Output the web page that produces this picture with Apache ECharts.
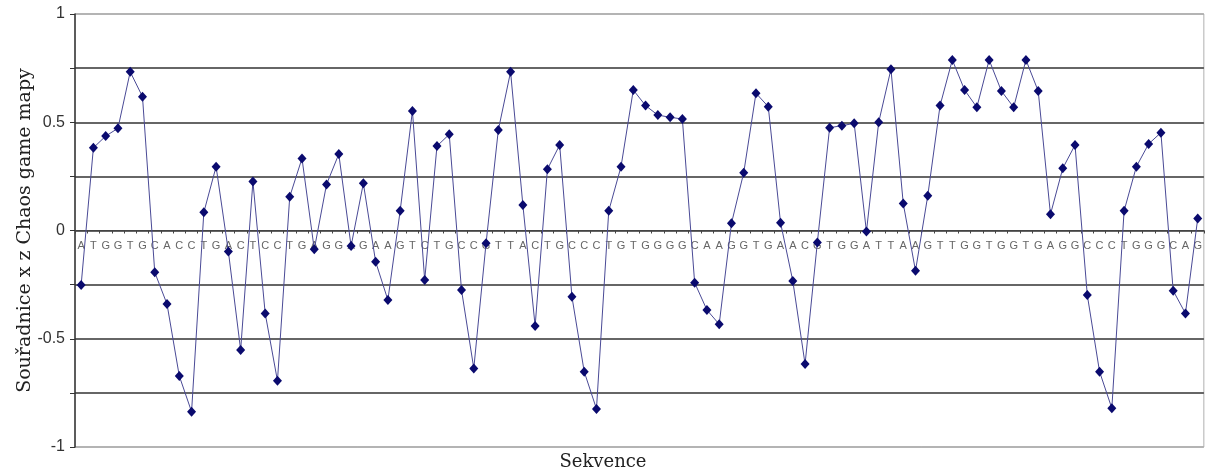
<!DOCTYPE html>
<html>
<head>
<meta charset="utf-8">
<script src="https://cdn.jsdelivr.net/npm/echarts@6/dist/echarts.min.js"></script>
<style>
  html, body { margin: 0; padding: 0; background: #fff; }
  #chart { width: 1205px; height: 472px; }
</style>
</head>
<body>
<div id="chart"></div>
<script>
// Nucleotide sequence shown along the x axis
const bases = [
  'A','T','G','G','T','G','C','A','C','C',
  'T','G','A','C','T','C','C','T','G','A',
  'G','G','A','G','A','A','G','T','C','T',
  'G','C','C','G','T','T','A','C','T','G',
  'C','C','C','T','G','T','G','G','G','G',
  'C','A','A','G','G','T','G','A','A','C',
  'G','T','G','G','A','T','T','A','A','G',
  'T','T','G','G','T','G','G','T','G','A',
  'G','G','C','C','C','T','G','G','G','C',
  'A','G'
];

// x coordinate of each step in the chaos game map
const xCoord = [
  -0.252, 0.382, 0.436, 0.472, 0.733, 0.618, -0.193, -0.340, -0.672, -0.837,
  0.084, 0.295, -0.097, -0.552, 0.226, -0.383, -0.694, 0.156, 0.333, -0.087,
  0.213, 0.353, -0.072, 0.218, -0.144, -0.321, 0.091, 0.552, -0.229, 0.390,
  0.444, -0.275, -0.637, -0.059, 0.464, 0.733, 0.118, -0.441, 0.283, 0.395,
  -0.306, -0.652, -0.824, 0.091, 0.295, 0.649, 0.577, 0.533, 0.523, 0.515,
  -0.241, -0.367, -0.433, 0.033, 0.267, 0.634, 0.572, 0.036, -0.233, -0.617,
  -0.055, 0.475, 0.484, 0.495, -0.005, 0.500, 0.745, 0.125, -0.186, 0.161,
  0.577, 0.788, 0.649, 0.569, 0.788, 0.644, 0.569, 0.788, 0.644, 0.075,
  0.287, 0.395, -0.298, -0.652, -0.821, 0.091, 0.295, 0.400, 0.452, -0.278,
  -0.383, 0.056
];

// Labelled values on the y axis
const yTickLabels = [-1, -0.5, 0, 0.5, 1];

const yTitle = 'Souřadnice x z Chaos game mapy';
const xTitle = 'Sekvence';

// Horizontal rules: light at the frame (±1), dark inside
const ruleColors = ['#a8a8a8', '#333', '#333', '#333', '#333', '#333', '#333', '#333', '#a8a8a8'];

const GRID_TOP = 14;
const GRID_BOTTOM = 25;
const CHART_H = 472;
const plotHeight = CHART_H - GRID_TOP - GRID_BOTTOM;

const chart = echarts.init(document.getElementById('chart'), null, { renderer: 'canvas' });

chart.setOption({
  animation: false,
  backgroundColor: '#fff',
  title: {
    text: xTitle,
    left: 598,
    top: 448,
    textAlign: 'center',
    textStyle: {
      fontFamily: 'DejaVu Serif',
      fontWeight: 'normal',
      fontSize: 18,
      color: '#222'
    }
  },
  grid: {
    left: 75,
    right: 1,
    top: GRID_TOP,
    bottom: GRID_BOTTOM,
    show: true,
    borderColor: '#b0b0b0',
    borderWidth: 1
  },
  xAxis: {
    type: 'category',
    data: bases,
    boundaryGap: true,
    position: 'bottom',
    // sequence runs along the zero line, letters just beneath it
    offset: -plotHeight / 2,
    axisLine: { onZero: false, lineStyle: { color: '#444', width: 1 } },
    axisTick: { show: true, length: 3, interval: 0, lineStyle: { color: '#444' } },
    axisLabel: {
      interval: 0,
      margin: 10,
      fontFamily: 'Liberation Sans',
      fontSize: 11,
      color: '#666'
    },
    splitLine: { show: false }
  },
  yAxis: {
    type: 'value',
    min: -1,
    max: 1,
    interval: 0.25,
    name: yTitle,
    nameLocation: 'middle',
    nameRotate: 90,
    nameGap: 40,
    nameMoveOverlap: false,
    nameTextStyle: {
      fontFamily: 'DejaVu Serif',
      fontSize: 19,
      color: '#222'
    },
    axisLine: { show: true, lineStyle: { color: '#333', width: 1.5 } },
    axisTick: { show: true, length: 5, lineStyle: { color: '#333' } },
    axisLabel: {
      margin: 10,
      fontFamily: 'Liberation Sans',
      fontSize: 16,
      color: '#333',
      formatter: function (v) {
        const hit = yTickLabels.find(t => Math.abs(t - v) < 1e-9);
        return hit === undefined ? '' : String(hit);
      }
    },
    splitLine: { show: true, lineStyle: { color: ruleColors, width: 1.5 } }
  },
  series: [{
    type: 'line',
    data: xCoord,
    symbol: 'diamond',
    symbolSize: [9, 10],
    showSymbol: true,
    lineStyle: { color: '#4a4a96', width: 1 },
    itemStyle: { color: '#0a0a6e' },
    z: 5
  }]
});
</script>
</body>
</html>
